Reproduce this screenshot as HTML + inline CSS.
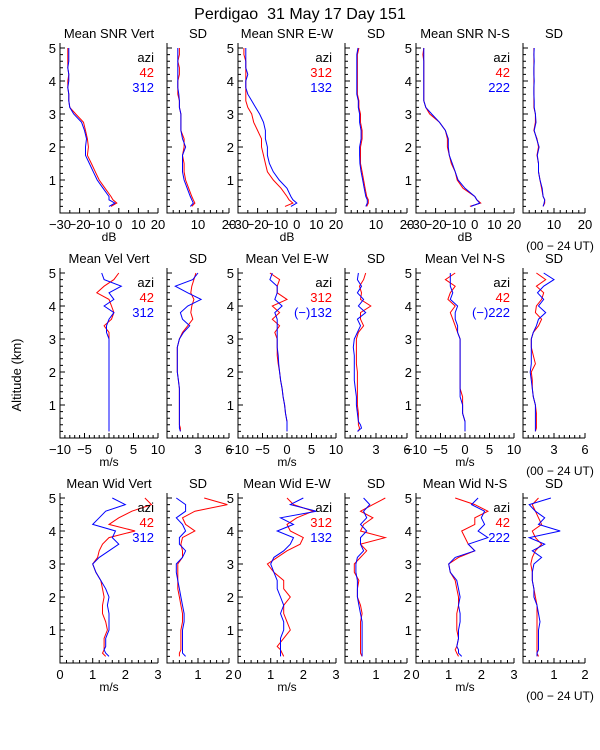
<!DOCTYPE html>
<html><head><meta charset="utf-8">
<style>
html,body{margin:0;padding:0;background:#fff;}
svg{display:block;font-family:"Liberation Sans",sans-serif;}
</style></head>
<body>
<svg id="chart" width="600" height="750" viewBox="0 0 600 750" xmlns="http://www.w3.org/2000/svg">
<text x="300" y="19" font-size="16" text-anchor="middle" style="white-space:pre">Perdigao  31 May 17 Day 151</text>
<text x="0" y="0" font-size="13" text-anchor="middle" transform="translate(21,375) rotate(-90)">Altitude (km)</text>
</svg>
<script>
const ALT=[0.2,0.3,0.4,0.5,0.75,1.0,1.25,1.5,1.75,2.0,2.25,2.5,2.75,3.0,3.2,3.4,3.6,3.8,4.0,4.2,4.4,4.6,4.8,5.0];
// Row 1: SNR (dB)
const snrVertRed=[-4,-1,-3,-4,-7,-10,-12,-14,-16,-15.5,-16,-17,-18,-22,-25,-25.5,-25.5,-26,-26,-25.5,-26,-26,-26,-26];
const snrVertBlue=[-5,-2,-5,-5,-8,-11,-13,-15,-17,-17,-16.5,-17.5,-19,-23,-25,-25.5,-25.5,-26,-25.5,-25.5,-26,-25.5,-25.5,-25.5];
const sdSnrVertRed=[8,9,8.5,8,7,6,5.5,5.5,5,5.5,5.5,4.5,4.5,4.5,4,4,3.5,3.5,3.5,4,4,3.5,4,4];
const sdSnrVertBlue=[7.5,8.5,8,7.5,6.5,5.5,5,5,5,6,5,4.5,4.5,4.5,4,4,3.8,3.5,3.5,3.5,3.5,3.5,3.5,3.5];
const snrEWRed=[-6,-2,-4,-5,-8,-12,-15,-16,-17,-18,-18,-20,-22,-23,-25,-26,-26,-26,-26,-26,-26,-26,-27,-27];
const snrEWBlue=[-3,0,-2,-3,-5,-9,-12,-14,-15,-15,-16,-16,-17,-19,-21,-23,-25,-26,-26,-25,-26,-26,-26,-26];
const sdSnrEWRed=[7,7.5,7.5,7,6.5,6,5.5,5,5,5,5.5,5.5,5,5,4.5,4.5,4,4,4,4,4,4,4,4.5];
const sdSnrEWBlue=[6.7,7.2,7.2,6.7,6.2,5.7,5.2,4.8,4.7,4.7,5.2,5.2,4.7,4.7,4.3,4.3,3.8,3.8,3.8,3.8,3.8,3.8,3.8,4.2];
const snrNSRed=[-2.5,3,1,0,-6,-9,-10,-12,-13,-14,-14,-15,-18,-23,-25,-26,-26,-26,-26,-26,-26,-26,-26.5,-26];
const snrNSBlue=[-2,2.5,1,0,-5,-8.5,-10,-11.5,-13,-13.5,-13.5,-15,-18,-22,-25,-26,-26,-26,-26,-26,-26,-26,-26,-26];
const sdSnrNSRed=[6.5,7,7,6.5,6,5.5,5,5,4.5,5,4.5,3.5,4,4,3.5,3.5,3.5,3.5,3.5,3.5,3.5,3.5,3.5,3.5];
const sdSnrNSBlue=[6.5,6.8,7,6.5,6.2,5.5,5,5,4.6,5.2,4.4,3.6,4.2,4,3.6,3.6,3.5,3.5,3.6,3.5,3.5,3.6,3.5,3.6];
// Row 2: Velocity (m/s)
const velVertRed=[0,0,0,0,0,0,0,0,0,0,0,0,0,0,0,-1,0.5,1,0.5,0,-2.5,-1,1,2];
const velVertBlue=[0,0,0,0,0,0,0,0,0,0,0,0,0,0,-0.5,-0.5,0,1,-1,1,0,2.5,-1,-1.5];
const sdVelVertRed=[1.3,1.3,1.2,1.2,1.2,1.2,1.2,1.2,1.1,1.0,1.0,1.0,1.0,1.2,1.5,2.0,2.5,2.3,2.4,2.6,2.3,2.4,2.6,2.8];
const sdVelVertBlue=[1.3,1.2,1.2,1.2,1.2,1.2,1.2,1.2,1.1,1.0,1.0,1.0,1.0,1.2,1.6,2.2,1.5,1.3,2.0,3.3,2.0,0.8,2.5,3.0];
const velEWRed=[0,0,0,0,-0.3,-0.5,-0.8,-1,-1.3,-1.5,-1.8,-2,-2,-2,-2.5,-1.5,-3,-1.5,-3,0,-2,-2,-1.5,-3.5];
const velEWBlue=[0,0,0,0,-0.3,-0.5,-0.8,-1,-1.3,-1.5,-1.7,-1.8,-2,-2,-2,-2,-2,-2.5,-1,-2.5,-2,-2,-3.5,-3];
const sdVelEWRed=[1.3,1.4,1.3,1.3,1.3,1.2,1.2,1.2,1.2,1.2,1.1,1.1,1.1,1.1,1.3,1.8,1.5,1.5,2.5,1.5,1.6,1.4,1.8,2.0];
const sdVelEWBlue=[1.2,1.6,1.5,1.3,1.2,1.1,1.1,1.0,0.9,0.9,0.9,0.9,0.8,0.9,1.2,1.5,1.2,2.0,1.3,1.8,1.2,1.6,1.2,1.3];
const velNSRed=[0,0,0,0,-0.5,-0.5,-0.5,-1,-1,-1,-1,-1,-1,-1,-1.5,-2,-2.5,-3,-2,-3.5,-3,-2,-4,-2];
const velNSBlue=[0,0,0,0,-0.5,-0.5,-1,-1,-1,-1,-1,-1,-1,-1,-1.5,-1.5,-2,-2,-1.5,-3,-2.5,-3,-3,-3];
const sdVelNSRed=[1.2,1.3,1.3,1.3,1.3,1.2,1.0,0.9,0.9,0.8,1.2,1.0,0.8,0.8,1.0,1.5,1.8,1.2,1.3,1.8,2.0,1.3,2.2,1.3];
const sdVelNSBlue=[1.2,1.2,1.2,1.2,1.2,1.2,1.0,0.9,0.8,0.7,0.8,0.8,0.8,0.8,1.0,1.3,1.5,2.2,1.5,2.0,1.4,2.0,3.0,2.0];
// Row 3: Width (m/s)
const widVertRed=[1.4,1.3,1.35,1.35,1.35,1.45,1.4,1.3,1.3,1.35,1.3,1.25,1.1,1.0,1.15,1.2,1.3,1.5,2.3,1.5,1.8,2.2,2.8,2.6];
const widVertBlue=[1.5,1.4,1.35,1.4,1.4,1.5,1.5,1.5,1.45,1.5,1.4,1.25,1.1,1.0,1.2,1.5,1.8,1.6,1.7,1.0,1.2,1.4,2.0,1.6];
const sdWidVertRed=[0.4,0.4,0.45,0.45,0.45,0.45,0.5,0.5,0.45,0.4,0.35,0.35,0.35,0.35,0.5,0.5,0.45,0.5,0.9,0.6,0.5,0.9,1.95,1.2];
const sdWidVertBlue=[0.6,0.5,0.5,0.5,0.5,0.5,0.55,0.55,0.5,0.45,0.4,0.35,0.3,0.3,0.5,0.6,0.4,0.4,0.6,0.5,0.3,0.6,0.6,0.3];
const widEWRed=[1.4,1.35,1.3,1.2,1.4,1.6,1.5,1.4,1.4,1.6,1.4,1.4,1.1,0.9,1.2,1.5,1.9,2.0,1.6,1.5,1.8,2.3,1.7,1.5];
const widEWBlue=[1.3,1.3,1.3,1.3,1.3,1.4,1.4,1.3,1.4,1.3,1.2,1.2,1.1,1.0,1.1,1.4,1.6,1.7,1.2,1.7,1.3,2.4,1.6,2.0];
const sdWidEWRed=[0.55,0.5,0.5,0.5,0.5,0.5,0.5,0.55,0.5,0.4,0.4,0.45,0.3,0.3,0.5,0.7,0.5,1.3,0.5,0.6,0.9,0.5,0.9,1.3];
const sdWidEWBlue=[0.55,0.55,0.55,0.55,0.55,0.55,0.55,0.5,0.45,0.4,0.4,0.4,0.35,0.35,0.4,0.6,0.5,0.5,0.7,0.5,0.7,0.6,0.8,0.6];
const widNSRed=[1.3,1.25,1.2,1.25,1.3,1.25,1.25,1.25,1.3,1.3,1.25,1.2,1.05,1.0,1.3,1.8,1.6,1.5,1.4,1.8,1.8,2.2,1.8,1.2];
const widNSBlue=[1.4,1.3,1.3,1.25,1.3,1.3,1.35,1.35,1.3,1.35,1.3,1.25,1.05,1.0,1.2,1.8,1.6,2.2,1.9,2.1,2.0,2.1,1.7,1.9];
const sdWidNSRed=[0.5,0.45,0.45,0.45,0.45,0.45,0.45,0.45,0.45,0.4,0.35,0.3,0.3,0.25,0.3,0.4,0.6,0.4,0.3,0.6,0.5,0.4,0.3,0.5];
const sdWidNSBlue=[0.45,0.45,0.5,0.5,0.5,0.5,0.55,0.5,0.45,0.35,0.35,0.3,0.3,0.35,0.6,0.3,0.7,0.2,1.2,0.5,0.7,0.4,0.2,0.9];

const rowTitles=[["Mean SNR Vert","Mean SNR E-W","Mean SNR N-S"],["Mean Vel Vert","Mean Vel E-W","Mean Vel N-S"],["Mean Wid Vert","Mean Wid E-W","Mean Wid N-S"]];
const legendAzi=[["42","312"],["312","132"],["42","222"]];
const legendAziVel=[["42","312"],["312","(−)132"],["42","(−)222"]];
const mainTicks=[[-30,-20,-10,0,10,20],[-10,-5,0,5,10],[0,1,2,3]];
const mainTickLabels=[["−30","−20","−10","0","10","20"],["−10","−5","0","5","10"],["0","1","2","3"]];
const sdTicks=[[10,20],[3,6],[1,2]];
const unitLabels=["dB","m/s","m/s"];
const altTicks=[1,2,3,4,5];

const mainDom=[[-30,20],[-10,10],[0,3]];
const sdDom=[[0,20],[0,6],[0,2]];
const mainMinor=[5,1,0.2];
const sdMinor=[2,0.5,0.2];
const series=[
 [[snrVertRed,snrVertBlue,sdSnrVertRed,sdSnrVertBlue],[snrEWRed,snrEWBlue,sdSnrEWRed,sdSnrEWBlue],[snrNSRed,snrNSBlue,sdSnrNSRed,sdSnrNSBlue]],
 [[velVertRed,velVertBlue,sdVelVertRed,sdVelVertBlue],[velEWRed,velEWBlue,sdVelEWRed,sdVelEWBlue],[velNSRed,velNSBlue,sdVelNSRed,sdVelNSBlue]],
 [[widVertRed,widVertBlue,sdWidVertRed,sdWidVertBlue],[widEWRed,widEWBlue,sdWidEWRed,sdWidEWBlue],[widNSRed,widNSBlue,sdWidNSRed,sdWidNSBlue]]
];
const svg=document.getElementById('chart');
const NS='http://www.w3.org/2000/svg';
function mk(tag,attrs,parent){const e=document.createElementNS(NS,tag);for(const k in attrs)e.setAttribute(k,attrs[k]);(parent||svg).appendChild(e);return e;}
function txt(s,x,y,anchor,fill,size,parent){const t=mk('text',{x:x,y:y,'text-anchor':anchor,'font-size':size||13,fill:fill||'#000'},parent);t.textContent=s;return t;}
const groupX=[60,238,416];
const MW=98,SW=62,SGAP=9;
const rowBase=[213,438,663];
const KM=33;
function yS(row,a){return rowBase[row]-a*KM;}

function drawPanel(row,x0,w,dom,minor,ticks,labels,red,blue,name,title,isMain){
  const g=mk('g',{});
  
  
  const xS=v=>x0+(v-dom[0])/(dom[1]-dom[0])*w;
  const yb=rowBase[row], yt=yS(row,5.15);
  const ax=mk('path',{d:`M${x0},${yt}V${yb}H${x0+w}`,stroke:'#000',fill:'none','stroke-width':1},g);
  
  
  let d='';
  for(let a=0.2;a<=5.1;a+=0.2){const yy=yS(row,a).toFixed(1);const major=Math.abs(a-Math.round(a))<0.01;d+=`M${x0},${yy}h${major?5:3}`;}
  mk('path',{d:d,stroke:'#000','stroke-width':1},g);
  if(isMain){altTicks.forEach(a=>{const t=txt(String(a),x0-4,yS(row,a)+5,'end','#000',13,g);});}
  d='';
  for(let v=dom[0]+minor;v<dom[1]-1e-6;v+=minor){const major=ticks.some(t=>Math.abs(t-v)<1e-6);d+=`M${xS(v).toFixed(1)},${yb}v${major?-5:-3}`;}
  d+=`M${x0+w},${yb}v-5`;
  mk('path',{d:d,stroke:'#000','stroke-width':1},g);
  ticks.forEach((t,i)=>{const l=txt(labels[i],xS(t),yb+16,'middle','#000',13,g);});
  const tt=txt(title,x0+w/2,yS(row,5.15)-5,'middle','#000',13,g);
  
  
  [[red,'#f00'],[blue,'#00f']].forEach(([arr,c],k)=>{
    const pts=arr.map((v,i)=>xS(v).toFixed(1)+','+yS(row,ALT[i]).toFixed(1)).join(' ');
    const pl=mk('polyline',{points:pts,fill:'none',stroke:c,'stroke-width':1},g);
    
    
  });
}
for(let r=0;r<3;r++){
  for(let c=0;c<3;c++){
    const x0=groupX[c];
    const s=series[r][c];
    drawPanel(r,x0,MW,mainDom[r],mainMinor[r],mainTicks[r],mainTickLabels[r],s[0],s[1],'mean-panel',rowTitles[r][c],true);
    const sx=x0+MW+SGAP;
    drawPanel(r,sx,SW,sdDom[r],sdMinor[r],sdTicks[r],sdTicks[r].map(String),s[2],s[3],'sd-panel','SD',false);
    const u=txt(unitLabels[r],x0+MW/2,rowBase[r]+28,'middle','#000',12);
    
    
    const lx=x0+MW-4, ly=yS(r,5.15);
    const labs=r===1?legendAziVel[c]:legendAzi[c];
    const a=txt('azi',lx,ly+19,'end','#000',13);
    
    
    const l1=txt(labs[0],lx,ly+34,'end','#f00',13);
    
    
    const l2=txt(labs[1],lx,ly+49,'end','#00f',13);
    
    
  }
  const ut=txt('(00 − 24 UT)',560,rowBase[r]+37,'middle','#000',12);
  
  
}
</script>
</body></html>
